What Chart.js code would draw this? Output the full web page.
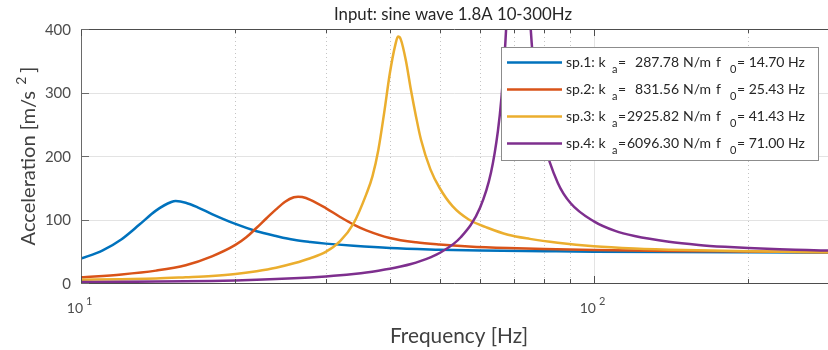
<!DOCTYPE html>
<html>
<head>
<meta charset="utf-8">
<script src="https://cdn.jsdelivr.net/npm/chart.js@4.4.1/dist/chart.umd.min.js"></script>
<style>
  html, body { margin: 0; padding: 0; background: #fff; }
  #grafico { display: block; }
</style>
</head>
<body>
<canvas id="grafico" width="828" height="350"></canvas>
<script>
// sp.1 .. sp.4 : frequencia [Hz] e aceleracao [m/s^2]
const freq1 = [10, 11, 12, 13, 14, 15, 15.3, 16, 17, 18, 20, 22, 24, 26, 28, 30, 34, 40, 50, 60, 80, 100, 140, 200, 286];
const acel1 = [38.5, 51, 69, 92, 114, 127.5, 129, 126.5, 118, 108.5, 93, 81.5, 74, 68, 64.5, 62, 58.5, 55, 52.5, 51, 50, 49.3, 48.7, 48.3, 48];

const freq2 = [10, 12, 14, 16, 18, 20, 21, 22, 23, 24, 25, 26, 26.5, 27, 28, 30, 32, 34, 36, 40, 45, 50, 57, 68, 80, 100, 140, 200, 286];
const acel2 = [9, 13.5, 19.5, 28, 42, 60, 72, 87, 102, 116, 128, 135, 136, 135.5, 131, 118, 104, 92, 83, 71, 64, 60.5, 57.5, 55, 53.5, 52, 50.5, 49.5, 48.5];

const freq3 = [10, 12, 14, 16, 18, 20, 22, 24, 26, 28, 30, 32, 34, 36, 37, 38, 39, 40, 41, 41.5, 42, 43, 44, 45, 46, 48, 50, 53, 57, 62, 68, 75, 85, 100, 120, 150, 200, 286];
const acel3 = [5, 6, 7, 9, 11, 14, 18.5, 24, 31, 39, 49, 66, 94, 140, 168, 210, 268, 330, 375, 388, 384, 350, 303, 262, 226, 179, 150, 121, 100, 87, 76, 69.5, 63.5, 58, 54.5, 52, 50, 48.5];

const freq4 = [10, 12, 14, 16, 18, 20, 22, 24, 26, 28, 30, 32, 34, 36, 38, 40, 42, 44, 46, 48, 50, 55, 60, 63, 65, 66, 67, 68, 69, 70, 71, 72, 73, 74, 75, 76, 78, 80, 85, 90, 100, 110, 120, 140, 160, 180, 200, 230, 260, 286];
const acel4 = [1.5, 1.8, 2.2, 2.7, 3.3, 4.1, 5.1, 6.2, 7.4, 8.8, 10.4, 12.2, 14.3, 16.6, 19.3, 22.3, 25.9, 29.9, 34.8, 40.5, 47.2, 72, 119, 174, 240, 290, 361, 465, 624, 849, 1000, 876, 671, 522, 423, 356, 271, 221, 158, 126, 97, 82, 74, 65, 60, 57, 55, 53, 52, 51];

const nomes = ['sp.1', 'sp.2', 'sp.3', 'sp.4'];
const rigidez = ['287.78', '831.56', '2925.82', '6096.30'];
const freqNatural = ['14.70', '25.43', '41.43', '71.00'];
const cores = ['#0072BD', '#D95319', '#EBAE2E', '#7E2F8E'];

const ticksX = [10, 20, 30, 40, 50, 60, 70, 80, 90, 100, 200];
const ticksY = [0, 100, 200, 300, 400];

const titulo = 'Input: sine wave 1.8A 10-300Hz';
const tituloX = 'Frequency [Hz]';
const tituloY = 'Acceleration [m/s ';

const FONTE = 'Lato, "Open Sans", sans-serif';

function pontos(fs, vs) {
    return fs.map((f, i) => ({ x: f, y: vs[i] }));
}

const series = [[freq1, acel1], [freq2, acel2], [freq3, acel3], [freq4, acel4]];

function ehDecada(v) {
    const l = Math.log10(v);
    return Math.abs(l - Math.round(l)) < 1e-9;
}

// tamanho de fonte para o texto ocupar a largura pedida
function tamanhoPara(ctx, texto, largura) {
    ctx.font = '20px ' + FONTE;
    return 20 * largura / ctx.measureText(texto).width;
}

const eixosMatlab = {
    id: 'eixosMatlab',
    beforeDatasetsDraw(chart) {
        const { ctx, chartArea: a, scales: { x, y } } = chart;
        ctx.save();
        ctx.lineWidth = 1;
        ticksY.forEach(v => {
            if (v === 0 || v === 400) return;
            const py = Math.round(y.getPixelForValue(v)) + 0.5;
            ctx.strokeStyle = '#e3e3e3';
            ctx.setLineDash([]);
            ctx.beginPath(); ctx.moveTo(a.left, py); ctx.lineTo(a.right, py); ctx.stroke();
        });
        ticksX.forEach(v => {
            if (v === 10) return;
            const px = Math.round(x.getPixelForValue(v)) + 0.5;
            if (ehDecada(v)) {
                ctx.strokeStyle = '#e3e3e3';
                ctx.setLineDash([]);
            } else {
                ctx.strokeStyle = '#c4c4c4';
                ctx.setLineDash([1, 3]);
            }
            ctx.beginPath(); ctx.moveTo(px, a.top); ctx.lineTo(px, a.bottom); ctx.stroke();
        });
        ctx.restore();
    },
    afterDatasetsDraw(chart) {
        const { ctx, chartArea: a, scales: { x, y } } = chart;
        ctx.save();
        ctx.setLineDash([]);
        ctx.lineWidth = 1;

        // eixos
        ctx.strokeStyle = '#6a6a6a';
        ctx.beginPath();
        ctx.moveTo(a.left + 0.5, a.top); ctx.lineTo(a.left + 0.5, a.bottom + 0.5);
        ctx.stroke();
        ctx.strokeStyle = '#4d4d4d';
        ctx.beginPath();
        ctx.moveTo(a.left, Math.round(a.bottom) + 0.5); ctx.lineTo(a.right, Math.round(a.bottom) + 0.5);
        ctx.moveTo(a.left, Math.round(a.top) + 0.5); ctx.lineTo(a.right, Math.round(a.top) + 0.5);
        ctx.stroke();

        ticksX.forEach(v => {
            const px = Math.round(x.getPixelForValue(v)) + 0.5;
            const len = ehDecada(v) ? 7 : 4;
            ctx.beginPath();
            ctx.moveTo(px, a.bottom); ctx.lineTo(px, a.bottom - len);
            ctx.moveTo(px, a.top); ctx.lineTo(px, a.top + len);
            ctx.stroke();
        });
        ctx.strokeStyle = '#6a6a6a';
        ticksY.forEach(v => {
            const py = Math.round(y.getPixelForValue(v)) + 0.5;
            ctx.beginPath(); ctx.moveTo(a.left, py); ctx.lineTo(a.left + 8, py); ctx.stroke();
        });

        // rotulos y
        ctx.fillStyle = '#4d4d4d';
        ctx.font = '15px ' + FONTE;
        ctx.textAlign = 'right';
        ctx.textBaseline = 'middle';
        ticksY.forEach(v => {
            ctx.fillText(String(v), a.left - 10, y.getPixelForValue(v) + 1);
        });

        // rotulos x (10^n)
        ticksX.filter(ehDecada).forEach(v => {
            const px = x.getPixelForValue(v);
            ctx.font = '14px ' + FONTE;
            ctx.textAlign = 'right';
            ctx.textBaseline = 'alphabetic';
            ctx.fillText('10', px + 2, 313);
            ctx.font = '11px ' + FONTE;
            ctx.textAlign = 'left';
            ctx.fillText(String(Math.round(Math.log10(v))), px + 5, 305);
        });

        // titulo
        ctx.fillStyle = '#262626';
        ctx.font = tamanhoPara(ctx, titulo, 238).toFixed(1) + 'px ' + FONTE;
        ctx.textAlign = 'center';
        ctx.textBaseline = 'middle';
        ctx.fillText(titulo, 453, 15);

        // titulo x
        ctx.fillStyle = '#404040';
        ctx.font = tamanhoPara(ctx, tituloX, 138).toFixed(1) + 'px ' + FONTE;
        ctx.textBaseline = 'alphabetic';
        ctx.fillText(tituloX, 459, 343);

        // titulo y rodado, com expoente
        ctx.save();
        ctx.translate(35, 156);
        ctx.rotate(-Math.PI / 2);
        const tam = tamanhoPara(ctx, tituloY, 160);
        ctx.font = tam.toFixed(1) + 'px ' + FONTE;
        const w1 = ctx.measureText(tituloY).width;
        const w3 = ctx.measureText(']').width;
        ctx.font = '14px ' + FONTE;
        const w2 = ctx.measureText('2').width + 5;
        let cx = -(w1 + w2 + w3) / 2;
        ctx.textAlign = 'left';
        ctx.font = tam.toFixed(1) + 'px ' + FONTE;
        ctx.fillText(tituloY, cx, 0);
        ctx.font = '14px ' + FONTE;
        ctx.fillText('2', cx + w1 + 1, -9);
        ctx.font = tam.toFixed(1) + 'px ' + FONTE;
        ctx.fillText(']', cx + w1 + w2, 0);
        ctx.restore();

        // legenda
        const bx = 501, by = 47, bw = 317, bh = 113;
        ctx.fillStyle = '#ffffff';
        ctx.fillRect(bx, by, bw, bh);
        ctx.strokeStyle = '#8c8c8c';
        ctx.lineWidth = 1;
        ctx.strokeRect(bx + 0.5, by + 0.5, bw, bh);
        const linhas = [62.5, 89.5, 116.5, 143.5];
        chart.data.datasets.forEach((ds, i) => {
            const ly = linhas[i];
            ctx.strokeStyle = ds.borderColor;
            ctx.lineWidth = 2.5;
            ctx.beginPath(); ctx.moveTo(507, ly); ctx.lineTo(562, ly); ctx.stroke();

            ctx.fillStyle = '#262626';
            ctx.textBaseline = 'middle';
            ctx.textAlign = 'left';
            ctx.font = '14px ' + FONTE;
            ctx.fillText(nomes[i] + ': k', 566, ly);
            ctx.font = '11px ' + FONTE;
            ctx.fillText('a', 612, ly + 7);
            ctx.font = '14px ' + FONTE;
            ctx.fillText('=', 618, ly);
            ctx.textAlign = 'right';
            ctx.fillText(rigidez[i], 679, ly);
            ctx.textAlign = 'left';
            ctx.fillText('N/m', 683, ly);
            ctx.fillText('f', 716, ly);
            ctx.font = '11px ' + FONTE;
            ctx.fillText('0', 730, ly + 7);
            ctx.font = '14px ' + FONTE;
            ctx.fillText('= ' + freqNatural[i] + ' Hz', 737, ly);
        });
        ctx.restore();
    }
};

new Chart(document.getElementById('grafico').getContext('2d'), {
    type: 'line',
    data: {
        datasets: series.map((s, i) => ({
            label: nomes[i],
            data: pontos(s[0], s[1]),
            borderColor: cores[i],
            backgroundColor: cores[i],
            borderWidth: 2.5,
            pointRadius: 0,
            cubicInterpolationMode: 'monotone',
            fill: false,
            order: 4 - i
        }))
    },
    options: {
        responsive: false,
        animation: false,
        devicePixelRatio: 1,
        layout: { padding: { left: 81, right: 0, top: 29, bottom: 67 } },
        plugins: {
            legend: { display: false },
            title: { display: false },
            tooltip: { enabled: false }
        },
        scales: {
            x: { type: 'logarithmic', min: 10, max: 286, display: false },
            y: { type: 'linear', min: 0, max: 400, display: false }
        }
    },
    plugins: [eixosMatlab]
});
</script>
</body>
</html>
